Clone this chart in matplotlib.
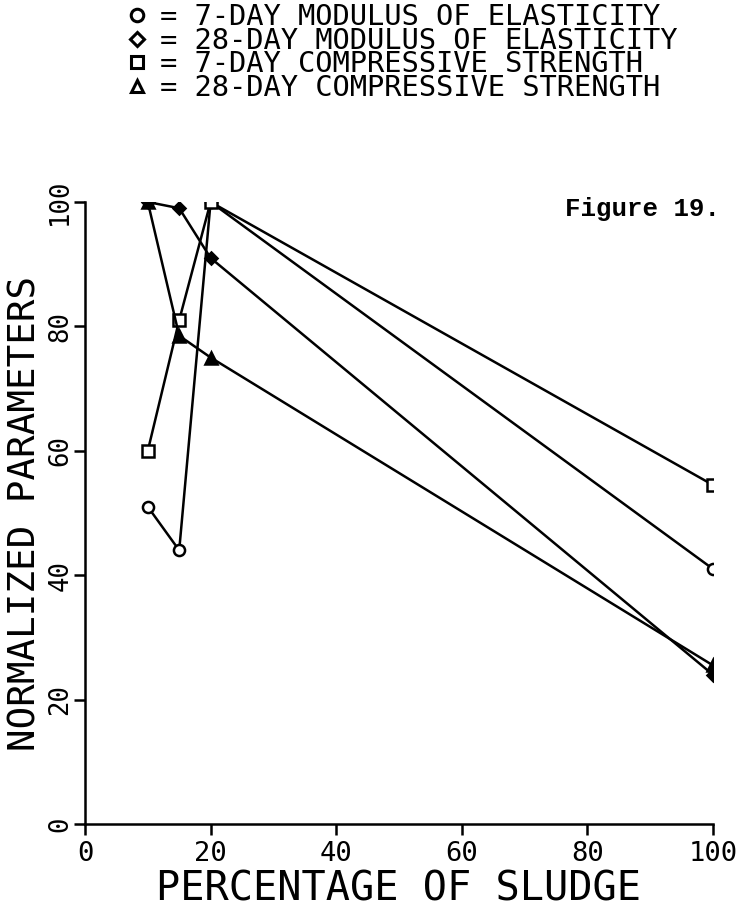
import matplotlib
matplotlib.use('Agg')
import matplotlib.pyplot as plt
from matplotlib.lines import Line2D

# Data (percent sludge vs normalized value)
sludge = [10, 15, 20, 100]

mod_7day = [51, 44, 100, 41]
mod_28day = [100, 99, 91, 24]
comp_7day = [60, 81, 100, 54.5]
comp_28day = [100, 78.5, 75, 25.5]

labels = ['7-DAY MODULUS OF ELASTICITY',
          '28-DAY MODULUS OF ELASTICITY',
          '7-DAY COMPRESSIVE STRENGTH',
          '28-DAY COMPRESSIVE STRENGTH']
markers = ['o', 'D', 's', '^']
filled = [False, True, False, True]

xticks = [0, 20, 40, 60, 80, 100]
yticks = [0, 20, 40, 60, 80, 100]

plt.rcParams['font.family'] = 'DejaVu Sans Mono'

fig = plt.figure(figsize=(7.53, 9.19), dpi=100)
ax = fig.add_axes([85/753, 1-824/919, 628/753, 622/919])

series = [mod_7day, mod_28day, comp_7day, comp_28day]
handles = []
for ys, m, f, lab in zip(series, markers, filled, labels):
    face = 'black' if f else 'white'
    ms = 6 if m == 'D' else 8
    ax.plot(sludge, ys, color='black', lw=1.8, marker=m, ms=ms,
            mfc=face, mec='black', mew=1.8, zorder=3)
    # legend shows open symbols only
    handles.append(Line2D([], [], ls='None', marker=m, ms=ms + 1, mfc='white',
                          mec='black', mew=2.2, label='= ' + lab))

ax.set_xlim(0, 100)
ax.set_ylim(0, 100)
ax.set_xticks(xticks)
ax.set_yticks(yticks)
ax.tick_params(axis='x', direction='out', length=8, width=1.8, pad=4,
               labelsize=19.5)
ax.tick_params(axis='y', direction='out', length=8, width=1.8, pad=0.5,
               labelsize=18.5, labelrotation=90)
for lbl in ax.get_yticklabels():
    lbl.set_va('center')
for s in ['top', 'right']:
    ax.spines[s].set_visible(False)
for s in ['left', 'bottom']:
    ax.spines[s].set_linewidth(1.8)

ax.set_xlabel('PERCENTAGE OF SLUDGE', fontsize=29, labelpad=2)
ax.set_ylabel('NORMALIZED PARAMETERS', fontsize=27, labelpad=0)
# anchor is the bottom edge of the rotated text, i.e. its right side
ax.yaxis.set_label_coords(-41/628, 0.5)

fig.text(565/753, 1-216/919, 'Figure 19.', family='Liberation Mono',
         fontsize=18.5, fontweight='bold', va='baseline')

fig.legend(handles=handles, loc='upper left',
           bbox_to_anchor=(125/753, 1-0/919), frameon=False,
           fontsize=20.7, handlelength=0.6, handletextpad=0.5,
           labelspacing=-0.15, borderpad=0.1, borderaxespad=0)

fig.savefig('out.png', dpi=100)
